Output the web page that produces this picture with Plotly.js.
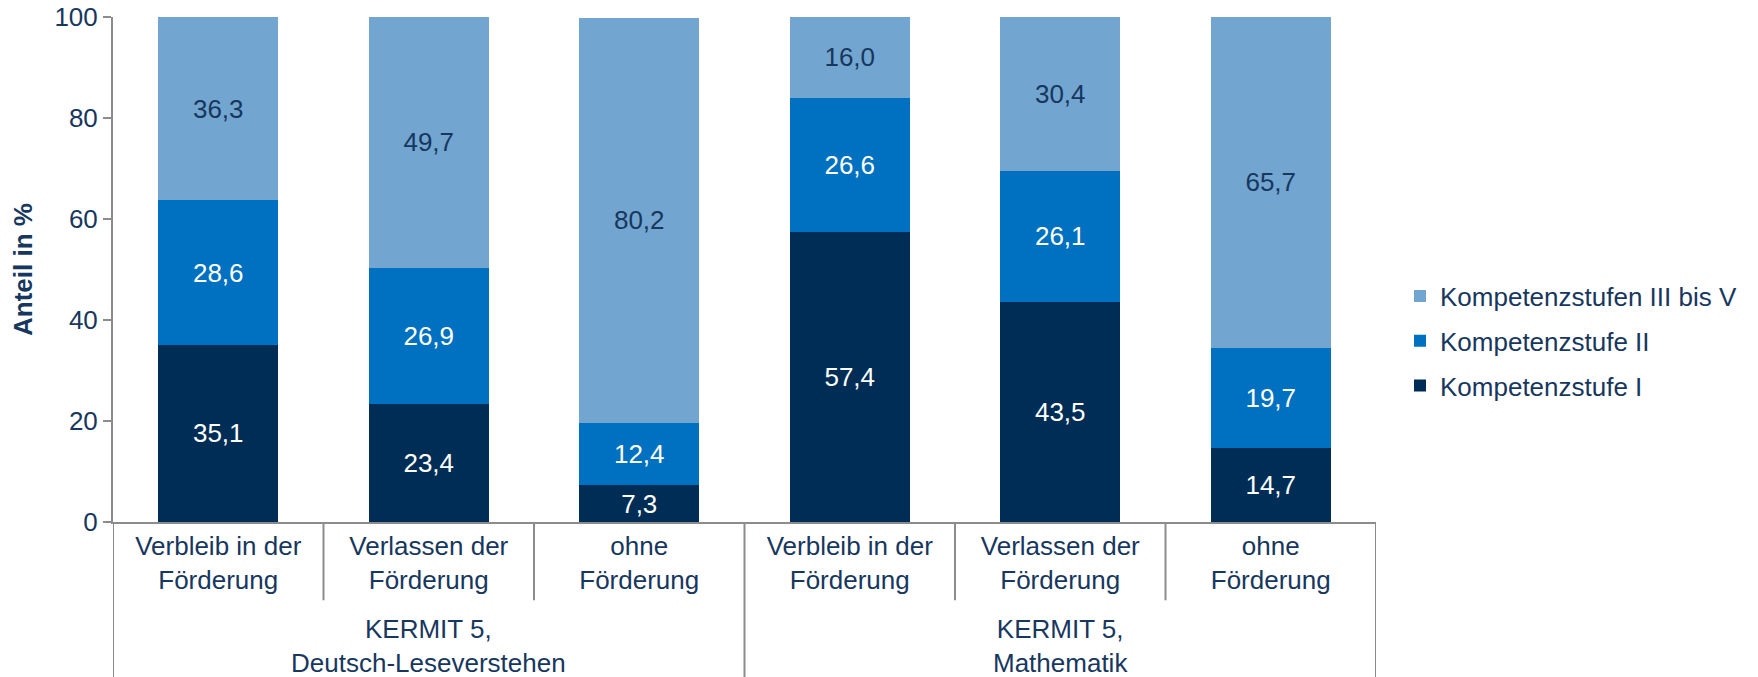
<!DOCTYPE html>
<html>
<head>
<meta charset="utf-8">
<script src="https://cdn.plot.ly/plotly-3.0.1.min.js"></script>
<style>
  html, body { margin: 0; padding: 0; background: #ffffff; }
  #chart { width: 1758px; height: 677px; }
</style>
</head>
<body>
<div id="chart"></div>
<script>
// ---- data ----
const subCategories = [
  "Verbleib in der<br>Förderung",
  "Verlassen der<br>Förderung",
  "ohne<br>Förderung",
  "Verbleib in der<br>Förderung",
  "Verlassen der<br>Förderung",
  "ohne<br>Förderung"
];
const groupLabels = ["KERMIT 5,<br>Deutsch-Leseverstehen", "KERMIT 5,<br>Mathematik"];
const groupOfCategory = [0, 0, 0, 1, 1, 1];

const seriesNames = ["Kompetenzstufe I", "Kompetenzstufe II", "Kompetenzstufen III bis V"];
const stufeI   = [35.1, 23.4, 7.3, 57.4, 43.5, 14.7];
const stufeII  = [28.6, 26.9, 12.4, 26.6, 26.1, 19.7];
const stufeIII = [36.3, 49.7, 80.2, 16.0, 30.4, 65.7];

const yTickVals = [0, 20, 40, 60, 80, 100];

// ---- styles ----
const FONT = "Liberation Sans, Arial, sans-serif";
const NAVY = "#17375E";
const AXIS = "#8C8C8C";
const colors = ["#002D56", "#0070C0", "#72A5CF"];
const textColors = ["#FFFFFF", "#FFFFFF", NAVY];
const legendRanks = [3, 2, 1];

const xPos = subCategories.map((_, i) => i);
const fmt = v => v.toFixed(1).replace(".", ",");

const seriesValues = [stufeI, stufeII, stufeIII];
const traces = seriesValues.map((vals, k) => ({
  type: "bar",
  name: seriesNames[k],
  legendgroup: "g" + k,
  legendrank: legendRanks[k],
  x: xPos,
  y: vals,
  width: 0.57,
  marker: { color: colors[k], line: { width: 0 } },
  text: vals.map(fmt),
  textposition: "inside",
  insidetextanchor: "middle",
  textangle: 0,
  constraintext: "none",
  textfont: { family: FONT, size: 26, color: textColors[k] },
  hoverinfo: "skip"
}));

// divider lines under the x axis
const shapes = [];
const nCat = subCategories.length;
for (let i = 0; i <= nCat; i++) {
  const b = i - 0.5;
  const isOuter = (i === 0 || i === nCat || groupOfCategory[i] !== groupOfCategory[i - 1]);
  shapes.push({
    type: "line", xref: "x", yref: "paper",
    x0: b, x1: b, y0: 0, y1: isOuter ? -0.31 : -0.155,
    line: { color: AXIS, width: 2 }
  });
}

// group labels centered under their categories
const annotations = groupLabels.map((g, gi) => {
  const idx = xPos.filter(i => groupOfCategory[i] === gi);
  const center = (idx[0] + idx[idx.length - 1]) / 2;
  return {
    text: g, xref: "x", yref: "paper", x: center, y: -0.2455,
    xanchor: "center", yanchor: "middle", showarrow: false,
    font: { family: FONT, size: 26, color: NAVY }
  };
});

const layout = {
  width: 1758, height: 677,
  margin: { l: 113, r: 382, t: 17, b: 155 },
  paper_bgcolor: "#ffffff", plot_bgcolor: "#ffffff",
  barmode: "stack",
  showlegend: true,
  legend: {
    xref: "container", yref: "container",
    x: 1400 / 1758, y: 1 - 341 / 677,
    xanchor: "left", yanchor: "middle",
    traceorder: "grouped",
    tracegroupgap: 8,
    font: { family: FONT, size: 26, color: NAVY },
    bgcolor: "rgba(0,0,0,0)"
  },
  xaxis: {
    range: [-0.5, nCat - 0.5],
    tickmode: "array", tickvals: xPos, ticktext: subCategories,
    showline: true, linecolor: AXIS, linewidth: 2,
    ticks: "", showgrid: false, zeroline: false,
    tickfont: { family: FONT, size: 26, color: NAVY },
    fixedrange: true
  },
  yaxis: {
    range: [0, 100],
    tickmode: "array", tickvals: yTickVals,
    showline: true, linecolor: AXIS, linewidth: 2,
    ticks: "outside", ticklen: 8, tickwidth: 2, tickcolor: AXIS,
    showgrid: false, zeroline: false,
    tickfont: { family: FONT, size: 26, color: NAVY },
    title: { text: "<b>Anteil in %</b>", font: { family: FONT, size: 26, color: NAVY }, standoff: 14 },
    fixedrange: true
  },
  shapes: shapes,
  annotations: annotations,
  font: { family: FONT, color: NAVY }
};

Plotly.newPlot("chart", traces, layout, { displayModeBar: false, staticPlot: true });
</script>
</body>
</html>
